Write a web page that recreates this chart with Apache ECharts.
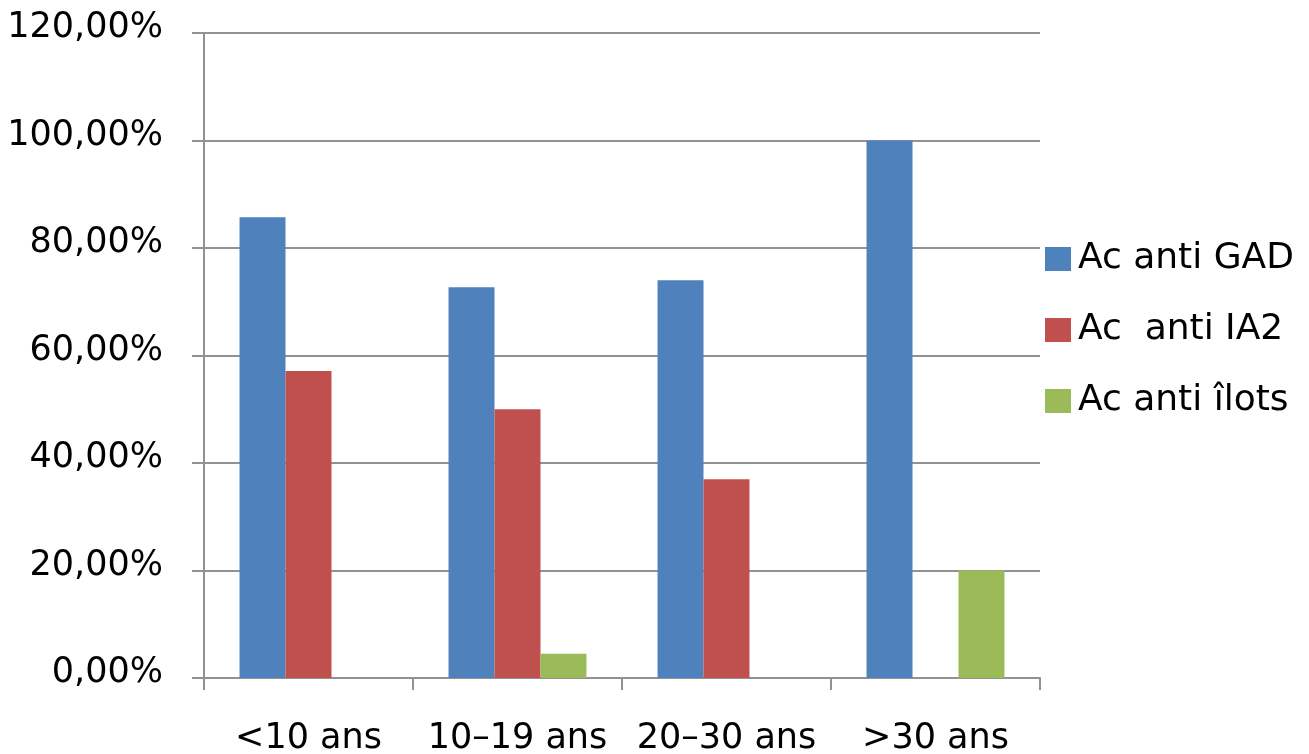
<!DOCTYPE html>
<html>
<head>
<meta charset="utf-8">
<script src="https://cdn.jsdelivr.net/npm/echarts@6/dist/echarts.min.js"></script>
<style>
  html, body { margin: 0; padding: 0; background: #ffffff; }
  #chart { width: 1309px; height: 754px; }
</style>
</head>
<body>
<div id="chart"></div>
<script>
// Age groups on the category axis
const categories = ['<10 ans', '10–19 ans', '20–30 ans', '>30 ans'];

// Antibody positivity per age group, in percent
const seriesNames = ['Ac anti GAD', 'Ac  anti IA2', 'Ac anti îlots'];
const gadValues = [85.7, 72.7, 74.0, 100];
const ia2Values = [57.1, 50.0, 37.0, 0];
const ilotsValues = [0, 4.5, 0, 20];

// Value axis range and step
const yMin = 0;
const yMax = 120;
const yStep = 20;

const colors = ['#4F81BD', '#C0504D', '#9BBB59'];
const font = '"DejaVu Sans", sans-serif';
const gray = '#929292';

const chart = echarts.init(document.getElementById('chart'), null, { renderer: 'canvas' });

function bar(name, values, color) {
  return {
    name: name,
    type: 'bar',
    data: values,
    barGap: '0%',
    barCategoryGap: '34%',
    itemStyle: { color: color },
    emphasis: { disabled: true }
  };
}

chart.setOption({
  animation: false,
  backgroundColor: '#ffffff',
  grid: { left: 204, right: 269, top: 33, bottom: 76, containLabel: false, outerBoundsMode: 'none' },
  legend: {
    orient: 'vertical',
    left: 1040,
    top: 236,
    itemWidth: 26,
    itemHeight: 24,
    itemGap: 35,
    icon: 'rect',
    textStyle: { fontFamily: font, fontSize: 36, color: '#000000', padding: [0, 0, 0, 2] },
    data: seriesNames
  },
  xAxis: {
    type: 'category',
    data: categories,
    boundaryGap: true,
    axisLine: { show: true, lineStyle: { color: gray, width: 2 } },
    axisTick: { show: true, length: 12, lineStyle: { color: gray, width: 2 } },
    axisLabel: { fontFamily: font, fontSize: 35, color: '#000000', margin: 43, interval: 0 }
  },
  yAxis: {
    type: 'value',
    min: yMin,
    max: yMax,
    interval: yStep,
    axisLine: { show: true, lineStyle: { color: gray, width: 2 } },
    axisTick: { show: true, length: 12, lineStyle: { color: gray, width: 2 } },
    splitLine: { show: true, lineStyle: { color: gray, width: 2 } },
    axisLabel: {
      fontFamily: font, fontSize: 35, color: '#000000', margin: 41,
      verticalAlign: 'bottom', lineHeight: 10,
      formatter: v => v.toFixed(2).replace('.', ',') + '%'
    }
  },
  series: [
    bar(seriesNames[0], gadValues, colors[0]),
    bar(seriesNames[1], ia2Values, colors[1]),
    bar(seriesNames[2], ilotsValues, colors[2])
  ]
});
</script>
</body>
</html>
